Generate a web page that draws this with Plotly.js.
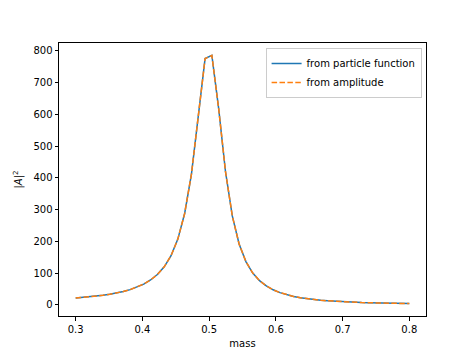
<!DOCTYPE html>
<html>
<head>
<meta charset="utf-8">
<script src="https://cdn.plot.ly/plotly-3.0.1.min.js"></script>
<style>html,body{margin:0;padding:0;background:#fff;}#chart{width:474px;height:355px;}</style>
</head>
<body>
<div id="chart"></div>
<script>
// mass values (50 evenly spaced points from 0.3 to 0.8)
const mass = [0.3000,0.3102,0.3204,0.3306,0.3408,0.3510,0.3612,0.3714,0.3816,0.3918,
0.4020,0.4122,0.4224,0.4327,0.4429,0.4531,0.4633,0.4735,0.4837,0.4939,
0.5041,0.5143,0.5245,0.5347,0.5449,0.5551,0.5653,0.5755,0.5857,0.5959,
0.6061,0.6163,0.6265,0.6367,0.6469,0.6571,0.6673,0.6776,0.6878,0.6980,
0.7082,0.7184,0.7286,0.7388,0.7490,0.7592,0.7694,0.7796,0.7898,0.8000];
// |A|^2, particle-function curve
const fromParticle = [21.0,22.7,24.7,27.0,29.7,33.0,36.9,41.7,47.7,55.3,
65.1,78.0,95.4,119.6,154.6,206.9,287.7,412.0,592.0,776.0,
786.0,618.0,420.0,280.0,191.5,136.0,100.0,76.0,59.2,47.1,
38.2,31.5,26.3,22.2,19.0,16.4,14.2,12.4,10.9,9.7,
8.6,7.7,6.9,6.3,5.7,5.2,4.7,4.3,3.9,3.6];
// |A|^2 from the amplitude (identical to the particle function)
const fromAmplitude = fromParticle.slice();

const traceNames = ["from particle function", "from amplitude"];

const traces = [
  {x: mass, y: fromParticle, type: "scatter", mode: "lines", name: traceNames[0],
   line: {color: "#1f77b4", width: 1.5}},
  {x: mass, y: fromAmplitude, type: "scatter", mode: "lines", name: traceNames[1],
   line: {color: "#ff7f0e", width: 1.5, dash: "5.5px,2.4px"}}
];

const axisCommon = {
  showgrid: false, zeroline: false, showline: true, mirror: true,
  linecolor: "#000", linewidth: 1, ticks: "outside", ticklen: 3.5, tickwidth: 1,
  tickcolor: "#000", tickfont: {family: "DejaVu Sans", size: 10, color: "#000"}
};

const layout = {
  width: 474, height: 355,
  margin: {l: 59, r: 48, t: 43, b: 39, pad: 0},
  paper_bgcolor: "#fff", plot_bgcolor: "#fff",
  font: {family: "DejaVu Sans", size: 10, color: "#000"},
  showlegend: true,
  xaxis: Object.assign({}, axisCommon, {
    range: [0.275, 0.825], tickvals: [0.3,0.4,0.5,0.6,0.7,0.8],
    ticktext: ["0.3","0.4","0.5","0.6","0.7","0.8"],
    title: {text: "mass", font: {family: "DejaVu Sans", size: 10, color: "#000"}, standoff: 6}
  }),
  yaxis: Object.assign({}, axisCommon, {
    range: [-35.5, 825.2], tickvals: [0,100,200,300,400,500,600,700,800],
    title: {text: "|<i>A</i>|<sup>2</sup>", font: {family: "DejaVu Sans", size: 10, color: "#000"}, standoff: 8}
  }),
  legend: {
    x: 0.988, y: 0.982, xanchor: "right", yanchor: "top",
    bgcolor: "rgba(255,255,255,0.8)", bordercolor: "#cccccc", borderwidth: 1,
    font: {family: "DejaVu Sans", size: 10, color: "#000"},
    itemwidth: 30, tracegroupgap: 0
  }
};

Plotly.newPlot("chart", traces, layout, {staticPlot: true, displayModeBar: false});
</script>
</body>
</html>
